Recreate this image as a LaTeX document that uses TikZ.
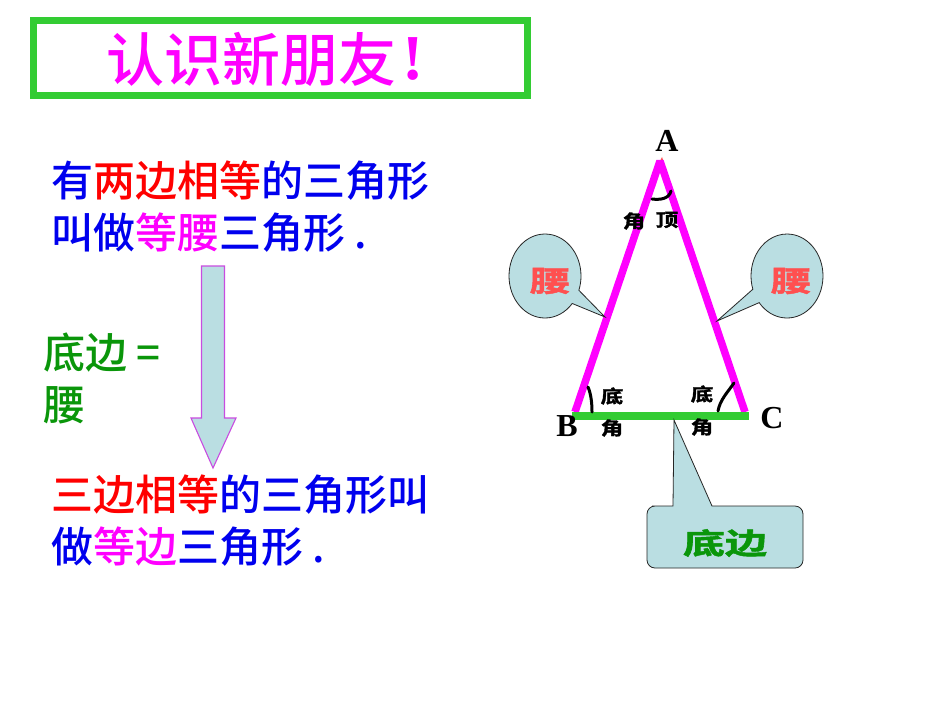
\documentclass[tikz,border=0pt]{standalone}
\usepackage{fontspec}
\usetikzlibrary{shapes.callouts}
\setmainfont{Noto Sans CJK SC Medium}
\newfontfamily\heavycjk{Noto Sans CJK SC Bold}[FakeBold=1.5]
\newfontfamily\latinbold{Liberation Serif}[BoldFont={Liberation Serif Bold}]
\definecolor{boxgreen}{HTML}{33CC33}
\definecolor{calloutfill}{HTML}{BADEE2}
\definecolor{textblue}{HTML}{0000EE}
\definecolor{textgreen}{HTML}{0A960A}
\definecolor{labelred}{HTML}{FF5050}
\definecolor{arrowedge}{HTML}{C84CE0}
\definecolor{hotpink}{HTML}{FF00FF}
\definecolor{pureRed}{HTML}{FF0000}
\newcommand{\fsz}[1]{\fontsize{#1}{#1}\selectfont}
\newcommand{\rd}[1]{\textcolor{pureRed}{#1}}
\newcommand{\mg}[1]{\textcolor{hotpink}{#1}}
\tikzset{
  x=1pt,y=-1pt,
  bodytext/.style={anchor=base west,inner sep=0pt,text=textblue,font=\fsz{42}},
  greentext/.style={anchor=base west,inner sep=0pt,text=textgreen,font=\fsz{42}},
  vertexlabel/.style={inner sep=0pt,font=\latinbold\bfseries\fsz{32}},
  anglelabel/.style={inner sep=0pt,font=\heavycjk\fsz{18}},
  leglabel/.style={inner sep=0pt,text=labelred,font=\heavycjk\fsz{29}},
  legcallout/.style={ellipse callout,draw=black!85,line width=.8pt,fill=calloutfill,
    minimum width=72pt,minimum height=84pt,inner sep=0pt,callout pointer arc=21},
  side/.style={draw=hotpink,line width=7.5pt,line join=bevel},
  base/.style={draw=boxgreen,line width=7.5pt},
  anglearc/.style={draw=black,line width=3pt,line cap=round},
}
\begin{document}
\begin{tikzpicture}
\useasboundingbox (0,0) rectangle (950,713);
\fill[white] (0,0) rectangle (950,713);
% title
\node[draw=boxgreen,line width=7pt,minimum width=494pt,minimum height=75pt,outer sep=0pt,anchor=north west,inner sep=0pt] (titlebox) at (33.5,20) {};
\node[anchor=base west,inner sep=0pt,text=hotpink,font=\fsz{58}] (title) at (106,81) {认识新朋友};
\node[anchor=base,inner sep=0pt,text=hotpink,font=\latinbold\bfseries\fsz{64}] (bang) at (413,79) {!};
% body
\node[bodytext] (l1) at (51,196) {有\rd{两边相等}的三角形};
\node[bodytext] (l2) at (51,248) {叫做\mg{等腰}三角形 .};
\node[bodytext] (l3) at (51,510) {\rd{三边相等}的三角形叫};
\node[bodytext] (l4) at (51,562) {做\mg{等边}三角形 .};
\node[greentext] (g1) at (43,368) {底边 =};
\node[greentext] (g2) at (43,420) {腰};
% arrow
\draw[arrowedge,fill=calloutfill,line width=1.1pt,line join=miter]
  (201.5,266) -- (224.5,266) -- (224.5,418) -- (236,418) -- (213,468) -- (191,418) -- (201.5,418) -- cycle;
% triangle
\coordinate (A) at (660,161);
\coordinate (B) at (575,412);
\coordinate (C) at (745,412);
\coordinate (BL) at (572,416);
\coordinate (CR) at (749,416);
\fill[labelred] (659,163) -- (662,157) -- (664,163) -- cycle;
\draw[side] (B) -- (A) -- (C);
\draw[base] (BL) -- (CR);
% angle marks
\draw[anglearc] (652,199) .. controls (660,200) and (669,199) .. (671,191);
\draw[anglearc] (588,387) .. controls (591,394) and (592,403) .. (592,412);
\draw[anglearc] (734,383) .. controls (727,393) and (720,400) .. (718,411);
% vertex labels
\node[vertexlabel] (la) at (667,141) {A};
\node[vertexlabel] (lb) at (567,426) {B};
\node[vertexlabel] (lc) at (772,418) {C};
% angle labels
\node[anglelabel] (a1) at (634,221) {\scalebox{1.25}[1]{角}};
\node[anglelabel] (a2) at (667,220) {\scalebox{1.25}[1]{顶}};
\node[anglelabel] (a3) at (612,396) {\scalebox{1.25}[1]{底}};
\node[anglelabel] (a4) at (612,428) {\scalebox{1.25}[1]{角}};
\node[anglelabel] (a5) at (702,394) {\scalebox{1.25}[1]{底}};
\node[anglelabel] (a6) at (702,427) {\scalebox{1.25}[1]{角}};
% callouts
\node[legcallout,callout absolute pointer={(605,317)}] (c1) at (545,276) {};
\node[legcallout,callout absolute pointer={(717,321)}] (c2) at (787,276) {};
\node[leglabel] (t1) at (550,281) {\scalebox{1.4}[1]{腰}};
\node[leglabel] (t2) at (791,281) {\scalebox{1.4}[1]{腰}};
% base callout
\draw[draw=black!85,line width=.8pt,fill=calloutfill]
  (660,506) -- (673,506) -- (674,420) -- (712,506) [rounded corners=8pt] -- (803,506) -- (803,568) -- (647,568) -- (647,506) -- cycle;
\node[inner sep=0pt,text=textgreen,font=\heavycjk\fsz{29}] (t3) at (725,543) {\scalebox{1.45}[1]{底边}};
\end{tikzpicture}
\end{document}
